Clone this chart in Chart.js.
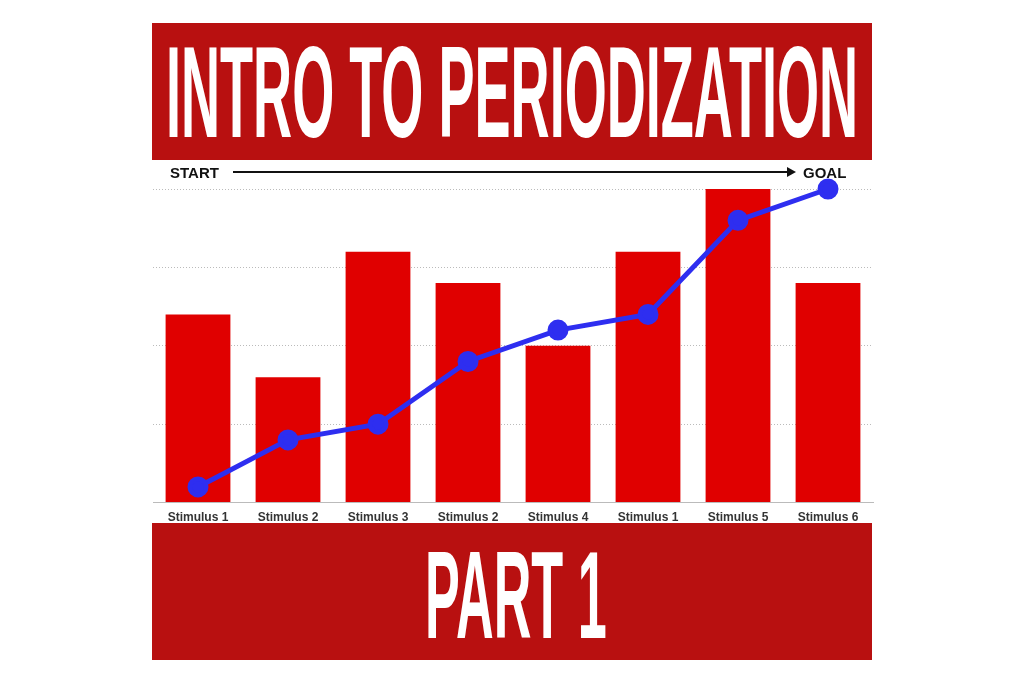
<!DOCTYPE html>
<html><head><meta charset="utf-8">
<script src="https://cdn.jsdelivr.net/npm/chart.js@4"></script>
<style>
html,body{margin:0;padding:0;background:#fff;width:1024px;height:683px;overflow:hidden;font-family:"Liberation Sans",Arial,sans-serif}
.banner{position:absolute;left:152px;width:720px;height:137px;background:#b81010;color:#fff;overflow:hidden}
.banner span{position:absolute;left:0;top:0;font-family:"Liberation Sans",sans-serif;font-weight:bold;font-size:78px;line-height:1;white-space:nowrap;transform-origin:0 0}
#wrap{position:absolute;left:140px;top:160px;width:746px;height:365px}
.lbl{position:absolute;font-weight:bold;font-size:15px;color:#111;top:164px}
#arrow{position:absolute;left:233px;top:171px;width:556px;height:2px;background:#111}
#head{position:absolute;left:787px;top:167px;width:0;height:0;border-top:5px solid transparent;border-bottom:5px solid transparent;border-left:9px solid #111}
</style></head><body>
<div id="wrap"><canvas id="c"></canvas></div>
<div class="banner" style="top:23px"><span id="t1">INTRO TO PERIODIZATION</span></div>
<div class="banner" style="top:523px"><span id="t2">PART 1</span></div>
<div class="lbl" style="left:170px">START</div>
<div id="arrow"></div><div id="head"></div>
<div class="lbl" style="left:803px">GOAL</div>
<script>
function fit(id,x0,x1,y0,y1){const s=document.getElementById(id);const w=s.offsetWidth;const cap=78*0.73;const top=78*0.2;
 const sx=(x1-x0)/w, sy=(y1-y0)/cap;
 s.style.transform=`translate(${x0-152}px,${y0+8-(id=='t1'?23:523)-top*sy}px) scale(${sx},${sy})`;}
fit('t1',166,858,45,140);
fit('t2',425,607,549,640);
const categories=["Stimulus 1","Stimulus 2","Stimulus 3","Stimulus 2","Stimulus 4","Stimulus 1","Stimulus 5","Stimulus 6"];
const barValues=[2.4,1.6,3.2,2.8,2.0,3.2,4.0,2.8];
const lineValues=[0.2,0.8,1.0,1.8,2.2,2.4,3.6,4.0];
new Chart(document.getElementById('c'),{
 data:{labels:categories,datasets:[
  {type:'line',data:lineValues,borderColor:'#2e2ef0',backgroundColor:'#2e2ef0',borderWidth:5,pointRadius:8,pointHoverRadius:8,tension:0,order:0,clip:false},
  {type:'bar',data:barValues,backgroundColor:'#e00000',categoryPercentage:0.72,barPercentage:1,order:1}
 ]},
 options:{responsive:true,maintainAspectRatio:false,animation:false,
  layout:{padding:{top:29,left:0,right:0,bottom:0}},
  plugins:{legend:{display:false},tooltip:{enabled:false}},
  scales:{
   x:{grid:{display:false},border:{color:'#bbb'},ticks:{color:'#333',font:{size:12,weight:'bold',family:'Liberation Sans'},padding:0,maxRotation:0}},
   y:{min:0,max:4,afterFit:s=>{s.width=0},ticks:{display:false,stepSize:1},border:{display:false,dash:[1,2]},grid:{color:'#bbb',drawTicks:false}}
  }}
});
</script></body></html>
